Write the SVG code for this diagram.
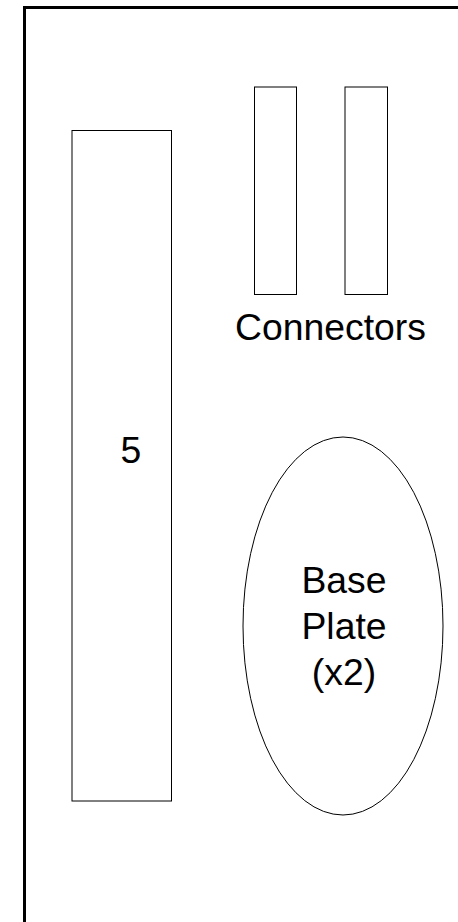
<svg xmlns="http://www.w3.org/2000/svg" width="458" height="922" viewBox="0 0 458 922">
<style>
.shape{fill:#fff;stroke:#000;stroke-width:1}
.lbl{font-family:"Liberation Sans",Arial,sans-serif;font-size:37.33px;fill:#000;text-anchor:middle}
</style>
<rect x="0" y="0" width="458" height="922" fill="#fff"/>
<g id="frame"><rect x="24.5" y="7.5" width="460" height="940" fill="none" stroke="#000" stroke-width="3"/></g>
<g id="node-5"><rect class="shape" x="72" y="130.5" width="99.5" height="670.5"/><text class="lbl" x="131" y="463">5</text></g>
<g id="connector-1"><rect class="shape" x="254.5" y="87" width="42" height="207.5"/></g>
<g id="connector-2"><rect class="shape" x="345" y="87" width="42.5" height="207.5"/></g>
<g id="connectors-label"><text class="lbl" x="330.5" y="340">Connectors</text></g>
<g id="base-plate"><ellipse class="shape" cx="343" cy="626" rx="100" ry="189"/><text class="lbl" x="344" y="593">Base</text><text class="lbl" x="344" y="639">Plate</text><text class="lbl" x="344" y="685">(x2)</text></g>
<g id="connectors"></g>
</svg>
